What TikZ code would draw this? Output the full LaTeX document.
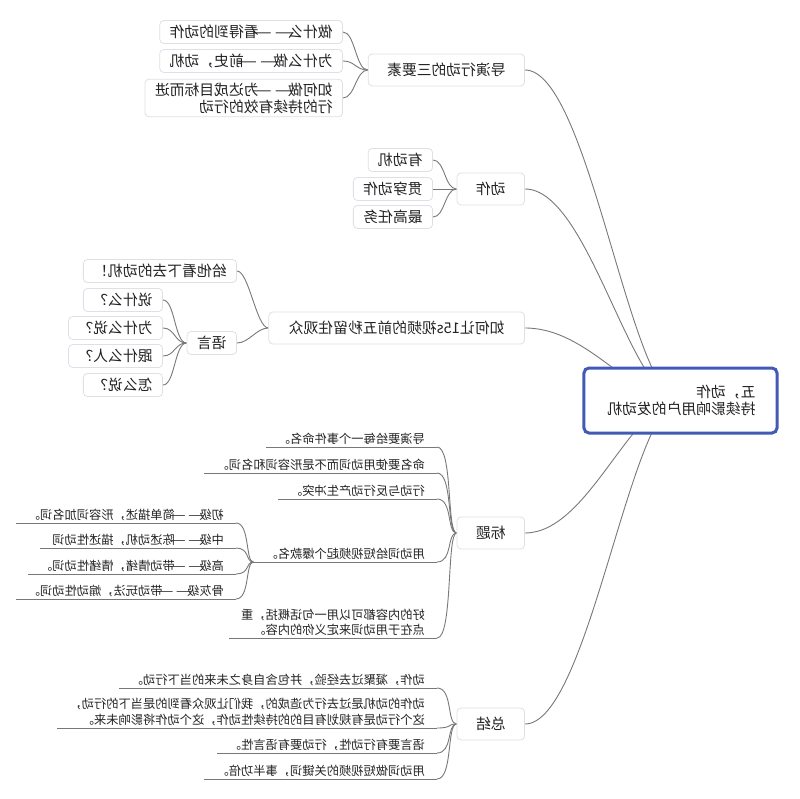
\documentclass[tikz,border=0pt]{standalone}
\usepackage{fontspec}
\setmainfont{Noto Sans CJK SC}
\usetikzlibrary{positioning}
\definecolor{lineGray}{RGB}{120, 120, 120}
\definecolor{boxGray}{RGB}{222, 224, 232}
\definecolor{rootBlue}{RGB}{66, 90, 182}
\definecolor{textDark}{RGB}{35, 35, 35}
\newcommand{\zdash}{\makebox[2em]{\scalebox{1.5}[1]{—}\hspace{0.2em}\scalebox{1.5}[1]{—}}}
\pgfdeclarelayer{bg}
\pgfsetlayers{bg,main}
\tikzset{
    conn/.style={draw=lineGray, line width=0.9pt},
    topic/.style={draw=boxGray, fill=white, rounded corners=4pt, line width=0.8pt,
        text=textDark, font=\fontsize{14.8}{17}\selectfont, inner ysep=3.5pt},
    branch/.style={topic, anchor=west, inner xsep=19pt, minimum height=32pt},
    sub/.style={topic, anchor=west, inner xsep=10pt, minimum height=23pt, align=left},
    leaf/.style={anchor=south west, inner xsep=12pt, inner ysep=2pt, text=textDark,
        font=\fontsize{12.25}{15.5}\selectfont, align=left}
}

\begin{document}
\begin{tikzpicture}[x=1pt, y=-1pt, xscale=-1, transform shape]
            \useasboundingbox (0,0) rectangle (800,799);

            % 中心主题
            \node[draw=rootBlue, line width=3pt, rounded corners=5pt, fill=white,
                minimum width=193pt, minimum height=65pt, text width=150pt, align=left,
                text=textDark, font=\fontsize{14.8}{17}\selectfont]
                (root) at (119.5,400.5) {五，动作\\持续影响用户的发动机};

            % 分支
            \node[branch] (yaosu) at (275,70) {导演行动的三要素};
            \node[branch] (dongzuo) at (275,189) {动作};
            \node[branch, inner xsep=20pt] (kaitou) at (275,328) {如何让15s视频的前五秒留住观众};
            \node[branch] (biaoti) at (275,533) {标题};
            \node[branch] (zongjie) at (275,724) {总结};

            % 导演行动的三要素
            \node[sub] (yaosu1) at (457,32) {做什么\zdash 看得到的动作};
            \node[sub] (yaosu2) at (457,61) {为什么做\zdash 前史，动机};
            \node[sub] (yaosu3) at (457,98) {如何做\zdash 为达成目标而进\\行的持续有效的行动};

            % 动作
            \node[sub] (dongzuo1) at (367,160) {有动机};
            \node[sub] (dongzuo2) at (367,189) {贯穿动作};
            \node[sub] (dongzuo3) at (367,217) {最高任务};

            % 前五秒
            \node[sub] (kaitou1) at (563,271) {给他看下去的动机！};
            \node[sub] (yuyan) at (563,343) {语言};
            \node[sub] (yuyan1) at (637,300) {说什么？};
            \node[sub] (yuyan2) at (637,328) {为什么说？};
            \node[sub] (yuyan3) at (637,356) {跟什么人？};
            \node[sub] (yuyan4) at (637,385) {怎么说？};

            % 标题
            \node[leaf] (biaoti1) at (363,447) {导演要给每一个事件命名。};
            \node[leaf] (biaoti2) at (363,473) {命名要使用动词而不是形容词和名词。};
            \node[leaf] (biaoti3) at (363,499) {行动与反行动产生冲突。};
            \node[leaf] (biaoti4) at (363,562) {用动词给短视频起个爆款名。};
            \node[leaf] (biaoti5) at (363,638) {好的内容都可以用一句话概括，重\\点在于用动词来定义你的内容。};
            \node[leaf] (jibie1) at (564,523) {初级\zdash 简单描述，形容词加名词。};
            \node[leaf] (jibie2) at (564,548) {中级\zdash 陈述动机，描述性动词};
            \node[leaf] (jibie3) at (564,574) {高级\zdash 带动情绪，情绪性动词。};
            \node[leaf] (jibie4) at (564,599) {骨灰级\zdash 带动玩法，煽动性动词。};

            % 总结
            \node[leaf] (zongjie1) at (363,688) {动作，凝聚过去经验，并包含自身之未来的当下行动。};
            \node[leaf] (zongjie2) at (363,728) {动作的动机是过去行为造成的，我们让观众看到的是当下的行动，\\这个行动是有规划有目的的持续性动作，这个动作将影响未来。};
            \node[leaf] (zongjie3) at (363,753) {语言要有行动性，行动要有语言性。};
            \node[leaf] (zongjie4) at (363,779) {用动词做短视频的关键词，事半功倍。};

            % 下划线
            \foreach \n in {biaoti1,biaoti2,biaoti3,biaoti4,biaoti5,jibie1,jibie2,jibie3,jibie4,
                zongjie1,zongjie2,zongjie3,zongjie4} {
                \draw[conn] (\n.south west) -- (\n.south east);
            }

            % 连线
            \begin{pgfonlayer}{bg}
            \foreach \b in {yaosu,dongzuo,kaitou,biaoti,zongjie} {
                \draw[conn] (root.center) .. controls +(50,0) and +(-64,0) .. (\b.west);
            }
            \foreach \c in {yaosu1,yaosu2,yaosu3} {
                \draw[conn] (yaosu.east) .. controls +(12,0) and +(-12,0) .. (\c.west);
            }
            \foreach \c in {dongzuo1,dongzuo2,dongzuo3} {
                \draw[conn] (dongzuo.east) .. controls +(12,0) and +(-12,0) .. (\c.west);
            }
            \foreach \c in {kaitou1,yuyan} {
                \draw[conn] (kaitou.east) .. controls +(12,0) and +(-12,0) .. (\c.west);
            }
            \foreach \c in {yuyan1,yuyan2,yuyan3,yuyan4} {
                \draw[conn] (yuyan.east) .. controls +(12,0) and +(-12,0) .. (\c.west);
            }
            \foreach \c in {biaoti1,biaoti2,biaoti3,biaoti4,biaoti5} {
                \draw[conn] (biaoti.east) .. controls +(10,0) and +(-16,0) .. (\c.south west);
            }
            \foreach \c in {jibie1,jibie2,jibie3,jibie4} {
                \draw[conn] (biaoti4.south east) .. controls +(8,0) and +(-14,0) .. (\c.south west);
            }
            \foreach \c in {zongjie1,zongjie2,zongjie3,zongjie4} {
                \draw[conn] (zongjie.east) .. controls +(10,0) and +(-16,0) .. (\c.south west);
            }
            \end{pgfonlayer}
        \end{tikzpicture}
\end{document}
